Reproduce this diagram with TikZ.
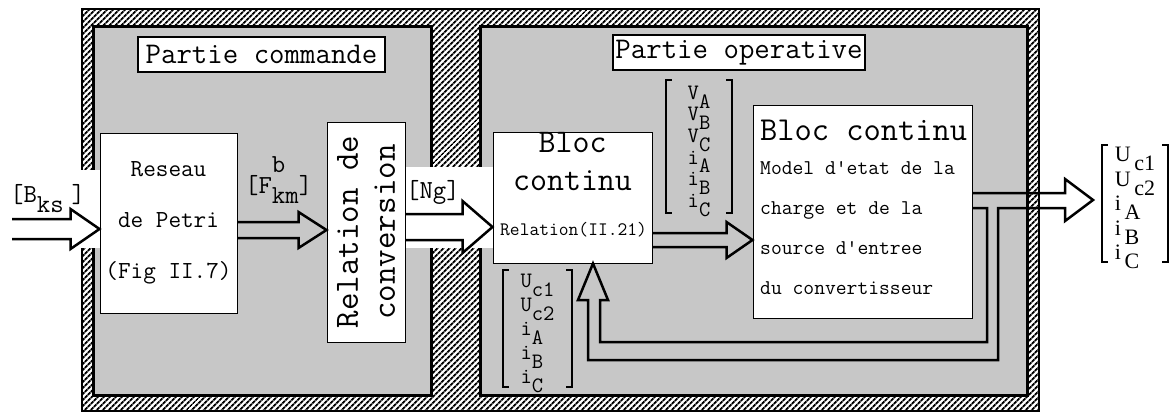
\documentclass[tikz,border=0pt]{standalone}
\usepackage{fontspec}
\usetikzlibrary{calc,patterns.meta}
\newcommand{\cour}{\ttfamily}
\newfontfamily\tms{Liberation Serif}
\newcommand{\lowr}[1]{\raisebox{-0.4em}[0pt][0pt]{#1}}
\newcommand{\brackets}[1]{%
  \draw[brk] ([xshift=6pt]#1.north west) -| (#1.south west) -- ++(6pt,0);
  \draw[brk] ([xshift=-6pt]#1.north east) -| (#1.south east) -- ++(-6pt,0);}
\newcommand{\fatarrow}[5]{%
  \draw[pipe] let \p1=(#1), \p2=(#2) in
    (\x1,\y2+#3) -- (\x2-#5,\y2+#3) -- (\x2-#5,\y2+#4) -- (\x2,\y2)
    -- (\x2-#5,\y2-#4) -- (\x2-#5,\y2-#3) -- (\x1,\y2-#3);}

\begin{document}
\begin{tikzpicture}[x=1pt,y=-1pt,
    hatch/.style={draw, line width=2pt, pattern={Lines[angle=45,distance=4pt,line width=2.1pt]}},
    panel/.style={draw, line width=3pt, fill=black!22},
    gap/.style={fill=white},
    blk/.style={draw, line width=1pt, fill=white, inner sep=0pt},
    lbl/.style={draw, line width=2.2pt, fill=white, inner sep=0pt, font=\cour\fontsize{30}{32}\selectfont},
    txt/.style={inner sep=0pt, font=\cour\fontsize{#1}{#1}\selectfont},
    pipe/.style={line width=2.5pt, line join=miter},
    brk/.style={line width=1.8pt},
    vec/.style={inner sep=0pt, align=left}
  ]
  \useasboundingbox (0,0) rectangle (1176,418);
  % frame and the two parts
  \draw[hatch] (82,9) rectangle (1039,411);
  \draw[panel] (93,26) rectangle (431,395);
  \draw[panel] (480,26) rectangle (1027,395);
  \fill[gap] (80,170) rectangle (100,248);
  \fill[gap] (400,167) rectangle (493,248);

  \node[lbl, minimum width=247pt, minimum height=35pt] (cmd) at (261.5,54.5) {Partie commande};
  \node[lbl, minimum width=252pt, minimum height=35pt] (opv) at (739,52.5) {Partie operative};

  % blocks
  \node[blk, minimum width=137pt, minimum height=180pt, align=center,
        font=\cour\fontsize{24.5}{51}\selectfont] (petri) at (168.5,223) {Reseau\\de Petri\\(Fig II.7)};
  \node[blk, minimum width=78pt, minimum height=220pt] (conv) at (366,232) {};
  \node[rotate=90, align=center, font=\cour\fontsize{34}{37}\selectfont] (convtxt) at (conv.center) {Relation de\\conversion};
  \node[blk, minimum width=159pt, minimum height=131pt] (sbloc) at (572.5,197.5) {};
  \node[txt=33, anchor=base] (sb1) at (572.5,152) {Bloc};
  \node[txt=33, anchor=base] (sb2) at (572.5,190) {continu};
  \node[txt=19, anchor=base west] (sb3) at (500,235) {Relation(II.21)};
  \node[blk, minimum width=219pt, minimum height=213pt] (bbloc) at (862.5,211.5) {};
  \node[txt=33.5, anchor=base west] (bb1) at (760,140) {Bloc continu};
  \node[txt=21, anchor=base west] (bb2) at (760,174) {Model d\textquotesingle etat de la};
  \node[txt=21, anchor=base west] (bb3) at (760,214) {charge et de la};
  \node[txt=21, anchor=base west] (bb4) at (760,254) {source d\textquotesingle entree};
  \node[txt=21, anchor=base west] (bb5) at (760,294) {du convertisseur};

  % vectors
  \node[vec, minimum width=66pt, minimum height=133pt, font=\cour\fontsize{22}{21.6}\selectfont] (vv) at (699,146.5)
    {V\lowr{A}\\V\lowr{B}\\V\lowr{C}\\i\lowr{A}\\i\lowr{B}\\i\lowr{C}};
  \node[vec, minimum width=69pt, minimum height=117pt, font=\cour\fontsize{22}{24}\selectfont] (uv) at (537.5,328.5)
    {U\lowr{c1}\\U\lowr{c2}\\i\lowr{A}\\i\lowr{B}\\i\lowr{C}};
  \node[vec, minimum width=66pt, minimum height=117pt, font=\tms\fontsize{22}{24.5}\selectfont] (out) at (1135,203.5)
    {U\,\lowr{c1}\\U\,\lowr{c2}\\i\,\lowr{A}\\i\,\lowr{B}\\i\,\lowr{C}};
  \brackets{vv}
  \brackets{uv}
  \brackets{out}

  % signal labels
  \node[txt=26, anchor=base west] (bks) at (10,202) {[B\lowr{ks}\hspace{0.3em}]};
  \node[txt=26, anchor=base west] (fkm) at (245,193) {[F\rlap{\raisebox{0.8em}{b}}\lowr{km}]};
  \node[txt=26, anchor=base west] (ng) at (406,198) {[Ng]};

  % arrows
  \coordinate (inp) at (12,229);
  \coordinate (otip) at (1093,200);
  \coordinate (fbtip) at (sbloc.south -| 593,0);
  \fatarrow{inp}{petri.west |- 0,229}{10pt}{20pt}{29pt}
  \fatarrow{petri.east}{conv.west |- 0,230}{8pt}{18pt}{28pt}
  \fatarrow{conv.east}{sbloc.west |- 0,227}{13pt}{26pt}{30pt}
  \fatarrow{sbloc.east}{bbloc.west |- 0,240}{7pt}{18pt}{26pt}
  \draw[pipe] (bbloc.east |- 0,193) -- (1065,193) -- (1065,179) -- (otip) -- (1065,221) -- (1065,208)
    -- (998,208) -- (998,360) -- (588,360) -- (588,300) -- (578,300) -- (fbtip) -- (608,300)
    -- (600,300) -- (600,342) -- (987,342) -- (987,208) -- (bbloc.east |- 0,208);
\end{tikzpicture}
\end{document}
